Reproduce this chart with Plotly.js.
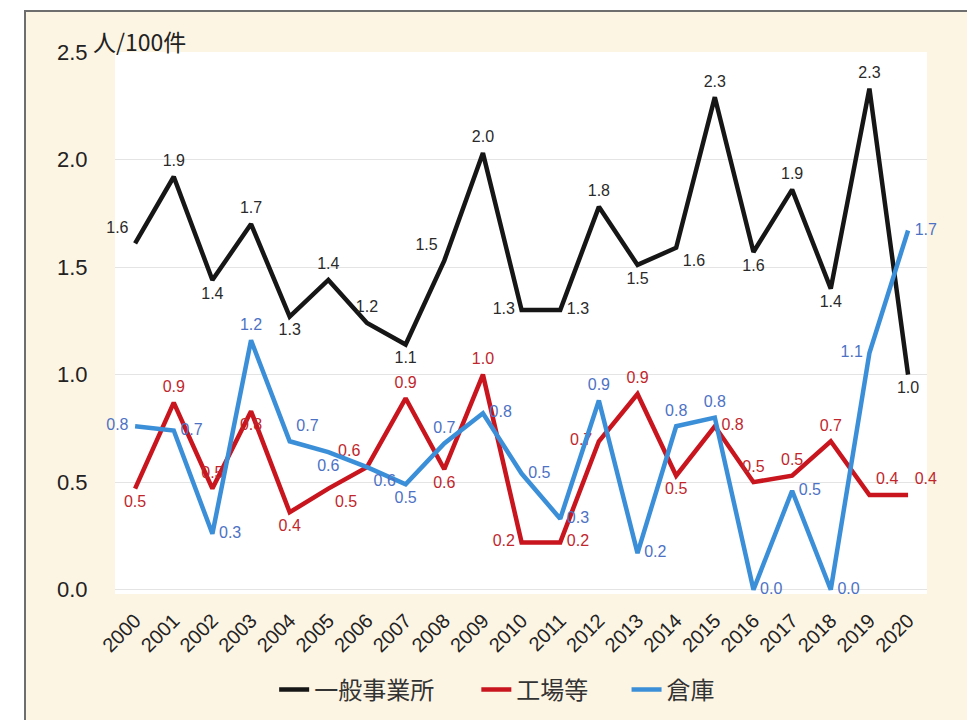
<!DOCTYPE html>
<html>
<head>
<meta charset="utf-8">
<script src="https://cdn.plot.ly/plotly-3.0.1.min.js"></script>
<style>
  html, body { margin: 0; padding: 0; background: #ffffff; overflow: hidden; width: 967px; height: 720px; }
  #frame {
    position: absolute; left: 24px; top: 10px; width: 943px; height: 710px;
    border-left: 2px solid #6e6e6e; border-top: 2px solid #6e6e6e;
    background: #fdf5e4;
  }
  #chart { position: absolute; left: 0; top: 0; width: 941px; height: 708px; }
</style>
</head>
<body>
<div id="frame"><div id="chart"></div></div>
<script>
// Years on the category axis
const years = ['2000','2001','2002','2003','2004','2005','2006','2007','2008','2009','2010',
               '2011','2012','2013','2014','2015','2016','2017','2018','2019','2020'];

// Rate per 100 cases (人/100件)
const office = [1.61, 1.92, 1.44, 1.70, 1.27, 1.44, 1.24, 1.14, 1.53, 2.03, 1.30,
                1.30, 1.78, 1.51, 1.59, 2.29, 1.57, 1.86, 1.40, 2.33, 1.00];
const factory = [0.47, 0.87, 0.47, 0.83, 0.36, 0.47, 0.57, 0.89, 0.56, 1.00, 0.22,
                 0.22, 0.69, 0.91, 0.53, 0.76, 0.50, 0.53, 0.69, 0.44, 0.44];
const warehouse = [0.76, 0.74, 0.26, 1.16, 0.69, 0.64, 0.57, 0.49, 0.68, 0.82, 0.54,
                   0.33, 0.88, 0.17, 0.76, 0.80, 0.00, 0.46, 0.00, 1.10, 1.67];

const seriesNames = ['一般事業所', '工場等', '倉庫'];
const yTicks = [0, 0.5, 1.0, 1.5, 2.0, 2.5];

// Where each value label sits relative to its point
const officeLabelPos = ['top left','top center','bottom center','top center','bottom center','top center',
  'top center','bottom center','top left','top center','middle left','middle right','top center',
  'bottom center','bottom right','top center','bottom center','top center','bottom center','top center','bottom center'];
const factoryLabelPos = ['bottom center','top center','top center','bottom center','bottom center','bottom right',
  'top left','top center','bottom center','top center','middle left','middle right','middle left',
  'top center','bottom center','middle right','top center','top center','top center','top right','top right'];
const warehouseLabelPos = ['middle left','middle right','middle right','top center','top right','bottom center',
  'bottom right','bottom center','top center','middle right','middle right','middle right','top center',
  'middle right','top center','top center','middle right','middle right','middle right','middle left','middle right'];

const numFont = '"Liberation Sans", Arial, sans-serif';
const cjkFont = '"Noto Sans CJK JP", "Noto Sans", sans-serif';

function lineTrace(name, values, positions, lineColor, textColor, legendId) {
  return {
    type: 'scatter',
    mode: 'lines+markers+text',
    name: name,
    legend: legendId,
    x: years,
    y: values,
    line: { color: lineColor, width: 4.5 },
    // invisible markers only keep the value labels clear of the line
    marker: { size: 9, color: 'rgba(0,0,0,0)' },
    texttemplate: '%{y:.1f}',
    textposition: positions,
    textfont: { family: numFont, size: 16, color: textColor },
    cliponaxis: false,
    hoverinfo: 'x+y+name'
  };
}

const data = [
  lineTrace(seriesNames[0], office, officeLabelPos, '#161616', '#2a2a2a', 'legend'),
  lineTrace(seriesNames[1], factory, factoryLabelPos, '#c8151e', '#c0272d', 'legend2'),
  lineTrace(seriesNames[2], warehouse, warehouseLabelPos, '#3b8fd8', '#4d72c4', 'legend3')
];

function legendAt(x) {
  return {
    orientation: 'h',
    x: x, xanchor: 'left',
    y: -0.177, yanchor: 'middle',
    font: { family: cjkFont, size: 24, color: '#333333' },
    bgcolor: 'rgba(0,0,0,0)',
    itemwidth: 30
  };
}

const layout = {
  width: 941,
  height: 708,
  margin: { l: 89, r: 40, t: 40, b: 126, autoexpand: false },
  paper_bgcolor: 'rgba(0,0,0,0)',
  plot_bgcolor: '#ffffff',
  showlegend: true,
  legend: legendAt(0.196),
  legend2: legendAt(0.445),
  legend3: legendAt(0.63),
  xaxis: {
    type: 'category',
    range: [-0.52, 20.49],
    tickangle: -45,
    tickfont: { family: numFont, size: 20, color: '#222222' },
    ticks: 'outside', ticklen: 6, tickcolor: 'rgba(0,0,0,0)',
    showgrid: false, zeroline: false, showline: false,
    automargin: false
  },
  yaxis: {
    range: [-0.02, 2.5],
    tickvals: yTicks,
    ticktext: yTicks.map(v => v.toFixed(1)),
    tickfont: { family: numFont, size: 22, color: '#222222' },
    ticks: 'outside', ticklen: 22, tickcolor: 'rgba(0,0,0,0)',
    showgrid: true, gridcolor: '#e4e4e4', gridwidth: 1,
    zeroline: false, showline: false,
    automargin: false
  },
  annotations: [{
    text: '人/100件',
    xref: 'paper', yref: 'paper',
    x: -0.029, y: 1.02,
    xanchor: 'left', yanchor: 'middle',
    showarrow: false,
    font: { family: cjkFont, size: 23, color: '#222222' }
  }]
};

Plotly.newPlot('chart', data, layout, { displayModeBar: false, staticPlot: true });
</script>
</body>
</html>
